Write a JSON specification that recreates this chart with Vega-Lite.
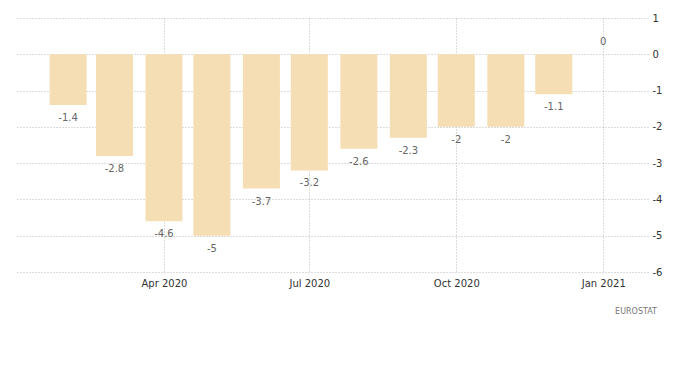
{
  "$schema": "https://vega.github.io/schema/vega-lite/v6.json",
  "autosize": "none",
  "width": 631,
  "height": 254,
  "padding": {"left": 17, "top": 18, "right": 52, "bottom": 98},
  "background": "white",
  "config": {
    "view": {"stroke": null},
    "font": "DejaVu Sans"
  },
  "title": {
    "text": "EUROSTAT",
    "orient": "bottom",
    "anchor": "end",
    "fontSize": 8,
    "fontWeight": "normal",
    "color": "#777",
    "offset": 20,
    "dx": -5
  },
  "data": {
    "values": [
      {"date": "2020-02-01", "value": -1.4},
      {"date": "2020-03-01", "value": -2.8},
      {"date": "2020-04-01", "value": -4.6},
      {"date": "2020-05-01", "value": -5},
      {"date": "2020-06-01", "value": -3.7},
      {"date": "2020-07-01", "value": -3.2},
      {"date": "2020-08-01", "value": -2.6},
      {"date": "2020-09-01", "value": -2.3},
      {"date": "2020-10-01", "value": -2},
      {"date": "2020-11-01", "value": -2},
      {"date": "2020-12-01", "value": -1.1},
      {"date": "2021-01-01", "value": 0}
    ]
  },
  "encoding": {
    "x": {
      "field": "date",
      "type": "temporal",
      "title": null,
      "scale": {
        "type": "utc",
        "padding": 0,
        "domain": [
          {"year": 2019, "month": 12, "date": 31, "utc": true},
          {"year": 2021, "month": 1, "date": 29, "utc": true}
        ]
      },
      "axis": {
        "values": [
          {"year": 2020, "month": 4, "date": 1, "utc": true},
          {"year": 2020, "month": 7, "date": 1, "utc": true},
          {"year": 2020, "month": 10, "date": 1, "utc": true},
          {"year": 2021, "month": 1, "date": 1, "utc": true}
        ],
        "labelExpr": "utcFormat(datum.value, '%b %Y')",
        "domain": false,
        "ticks": false,
        "labelPadding": 6,
        "labelFontSize": 10,
        "labelColor": "#333",
        "grid": true,
        "gridColor": "#b8b8b8",
        "gridDash": [1, 2],
        "labelFlush": false
      }
    },
    "y": {
      "field": "value",
      "type": "quantitative",
      "title": null,
      "scale": {"domain": [-6, 1], "nice": false, "zero": false, "padding": 0},
      "axis": {
        "orient": "right",
        "values": [1, 0, -1, -2, -3, -4, -5, -6],
        "labelExpr": "toString(datum.value)",
        "domain": false,
        "ticks": false,
        "labelPadding": 4,
        "labelFontSize": 10,
        "labelColor": "#333",
        "grid": true,
        "gridColor": "#b8b8b8",
        "gridDash": [1, 2]
      }
    }
  },
  "layer": [
    {
      "mark": {"type": "bar", "width": 37, "color": "#F5DEB3"},
      "encoding": {"y2": {"datum": 0}}
    },
    {
      "transform": [{"filter": "datum.value < 0"}],
      "mark": {"type": "text", "baseline": "middle", "dy": 13, "fontSize": 10, "color": "#666"},
      "encoding": {"text": {"field": "value", "type": "nominal"}}
    },
    {
      "transform": [{"filter": "datum.value >= 0"}],
      "mark": {"type": "text", "baseline": "middle", "dy": -12, "fontSize": 10, "color": "#666"},
      "encoding": {"text": {"field": "value", "type": "nominal"}}
    }
  ]
}
